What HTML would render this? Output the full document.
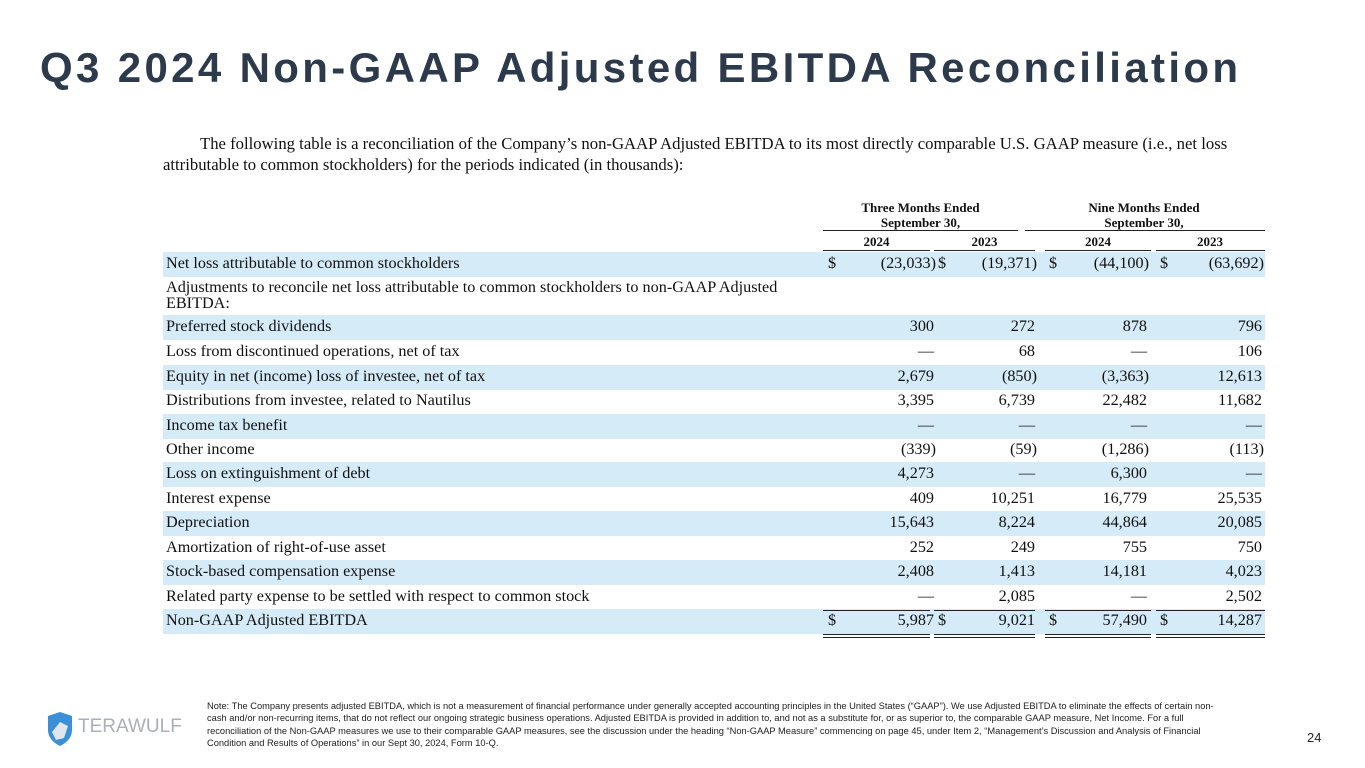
<!DOCTYPE html>
<html><head><meta charset="utf-8"><style>
body{margin:0;width:1365px;height:768px;background:#fff;position:relative;overflow:hidden;font-family:"Liberation Serif",serif;color:#111}
.t{position:absolute;left:40px;top:44px;font-family:"Liberation Sans",sans-serif;font-weight:bold;font-size:42px;color:#2c3a4b;letter-spacing:3.35px;white-space:nowrap}
.p{position:absolute;font-size:16.7px;white-space:nowrap}
.row{position:absolute;left:163px;width:1102px;height:24px;font-size:16.2px}
.sh{background:#d5ebf8}
.row span{position:absolute;top:2px;white-space:nowrap}
.h{position:absolute;font-weight:bold;font-size:13px;text-align:center;line-height:15px}
.ln{position:absolute;height:1px;background:#222}
.dl{position:absolute;height:2px;border-top:1px solid #222;border-bottom:1px solid #222}
.note{position:absolute;left:207px;top:700px;font-family:"Liberation Sans",sans-serif;font-size:9.3px;line-height:12.4px;color:#222;white-space:nowrap}
</style></head><body>
<div class="t">Q3 2024 Non-GAAP Adjusted EBITDA Reconciliation</div>
<div class="p" style="left:200px;top:134px">The following table is a reconciliation of the Company’s non-GAAP Adjusted EBITDA to its most directly comparable U.S. GAAP measure (i.e., net loss</div>
<div class="p" style="left:163px;top:155px">attributable to common stockholders) for the periods indicated (in thousands):</div>
<div class="h" style="left:823px;width:195px;top:200px">Three Months Ended<br>September 30,</div>
<div class="h" style="left:1025px;width:238px;top:200px">Nine Months Ended<br>September 30,</div>
<div class="ln" style="left:823px;width:195px;top:230px"></div>
<div class="ln" style="left:1025px;width:240px;top:230px"></div>
<div class="h" style="left:823px;width:107px;top:234px">2024</div>
<div class="h" style="left:934px;width:101px;top:234px">2023</div>
<div class="h" style="left:1045px;width:106px;top:234px">2024</div>
<div class="h" style="left:1156px;width:108px;top:234px">2023</div>
<div class="ln" style="left:823px;width:107px;top:250px"></div>
<div class="ln" style="left:934px;width:101px;top:250px"></div>
<div class="ln" style="left:1045px;width:106px;top:250px"></div>
<div class="ln" style="left:1156px;width:109px;top:250px"></div>
<div id="rows"></div>
<div class="ln" style="left:823px;width:107px;top:610px"></div>
<div class="ln" style="left:934px;width:101px;top:610px"></div>
<div class="ln" style="left:1045px;width:106px;top:610px"></div>
<div class="ln" style="left:1156px;width:109px;top:610px"></div>
<div class="dl" style="left:823px;width:107px;top:634px"></div>
<div class="dl" style="left:934px;width:101px;top:634px"></div>
<div class="dl" style="left:1045px;width:106px;top:634px"></div>
<div class="dl" style="left:1156px;width:109px;top:634px"></div>
<svg style="position:absolute;left:46px;top:712px" width="28" height="34" viewBox="0 0 28 34"><path d="M2 4 L14 0 L26 4 L26 18 Q26 28 14 34 Q2 28 2 18Z" fill="#3b8fd6"/><path d="M6 20 L14 10 L22 14 L18 26 L10 28Z" fill="#dfe6ee"/></svg>
<div style="position:absolute;left:78px;top:716px;font-family:'Liberation Sans',sans-serif;font-size:19px;color:#a9b0b8">TERAWULF</div>
<div class="note">Note: The Company presents adjusted EBITDA, which is not a measurement of financial performance under generally accepted accounting principles in the United States (“GAAP”). We use Adjusted EBITDA to eliminate the effects of certain non-<br>cash and/or non-recurring items, that do not reflect our ongoing strategic business operations. Adjusted EBITDA is provided in addition to, and not as a substitute for, or as superior to, the comparable GAAP measure, Net Income. For a full<br>reconciliation of the Non-GAAP measures we use to their comparable GAAP measures, see the discussion under the heading “Non-GAAP Measure” commencing on page 45, under Item 2, “Management’s Discussion and Analysis of Financial<br>Condition and Results of Operations” in our Sept 30, 2024, Form 10-Q.</div>
<div style="position:absolute;left:1307px;top:730px;font-family:'Liberation Sans',sans-serif;font-size:13px;color:#222">24</div>
<script>
var R=[
[253,1,"Net loss attributable to common stockholders",["(23,033)","(19,371)","(44,100)","(63,692)"],1],
[278,0,"",null],
[316,1,"Preferred stock dividends",["300","272","878","796"]],
[341,0,"Loss from discontinued operations, net of tax",["—","68","—","106"]],
[366,1,"Equity in net (income) loss of investee, net of tax",["2,679","(850)","(3,363)","12,613"]],
[390,0,"Distributions from investee, related to Nautilus",["3,395","6,739","22,482","11,682"]],
[415,1,"Income tax benefit",["—","—","—","—"]],
[439,0,"Other income",["(339)","(59)","(1,286)","(113)"]],
[463,1,"Loss on extinguishment of debt",["4,273","—","6,300","—"]],
[488,0,"Interest expense",["409","10,251","16,779","25,535"]],
[512,1,"Depreciation",["15,643","8,224","44,864","20,085"]],
[537,0,"Amortization of right-of-use asset",["252","249","755","750"]],
[561,1,"Stock-based compensation expense",["2,408","1,413","14,181","4,023"]],
[586,0,"Related party expense to be settled with respect to common stock",["—","2,085","—","2,502"]],
[610,1,"Non-GAAP Adjusted EBITDA",["5,987","9,021","57,490","14,287"],1]
];
var rights=[934,1035,1147,1262],dol=[828,938,1049,1160],h="";
R.forEach(function(r){
 var top=r[0]-1,ht=r[0]==278?38:25;
 h+='<div class="row'+(r[1]?' sh':'')+'" style="top:'+top+'px;height:'+ht+'px">';
 if(r[0]==278)h+='<span style="left:3px;top:2px;line-height:16px">Adjustments to reconcile net loss attributable to common stockholders to non-GAAP Adjusted<br>EBITDA:</span>';
 else h+='<span style="left:3px">'+r[2]+'</span>';
 if(r[3])r[3].forEach(function(v,i){
  var rr=rights[i]-163+(v.indexOf(")")>0?2:0);
  h+='<span style="right:'+(1102-rr)+'px">'+v+'</span>';
  if(r[4])h+='<span style="left:'+(dol[i]-163)+'px">$</span>';
 });
 h+='</div>';
});
document.getElementById("rows").outerHTML=h;
</script>
</body></html>
